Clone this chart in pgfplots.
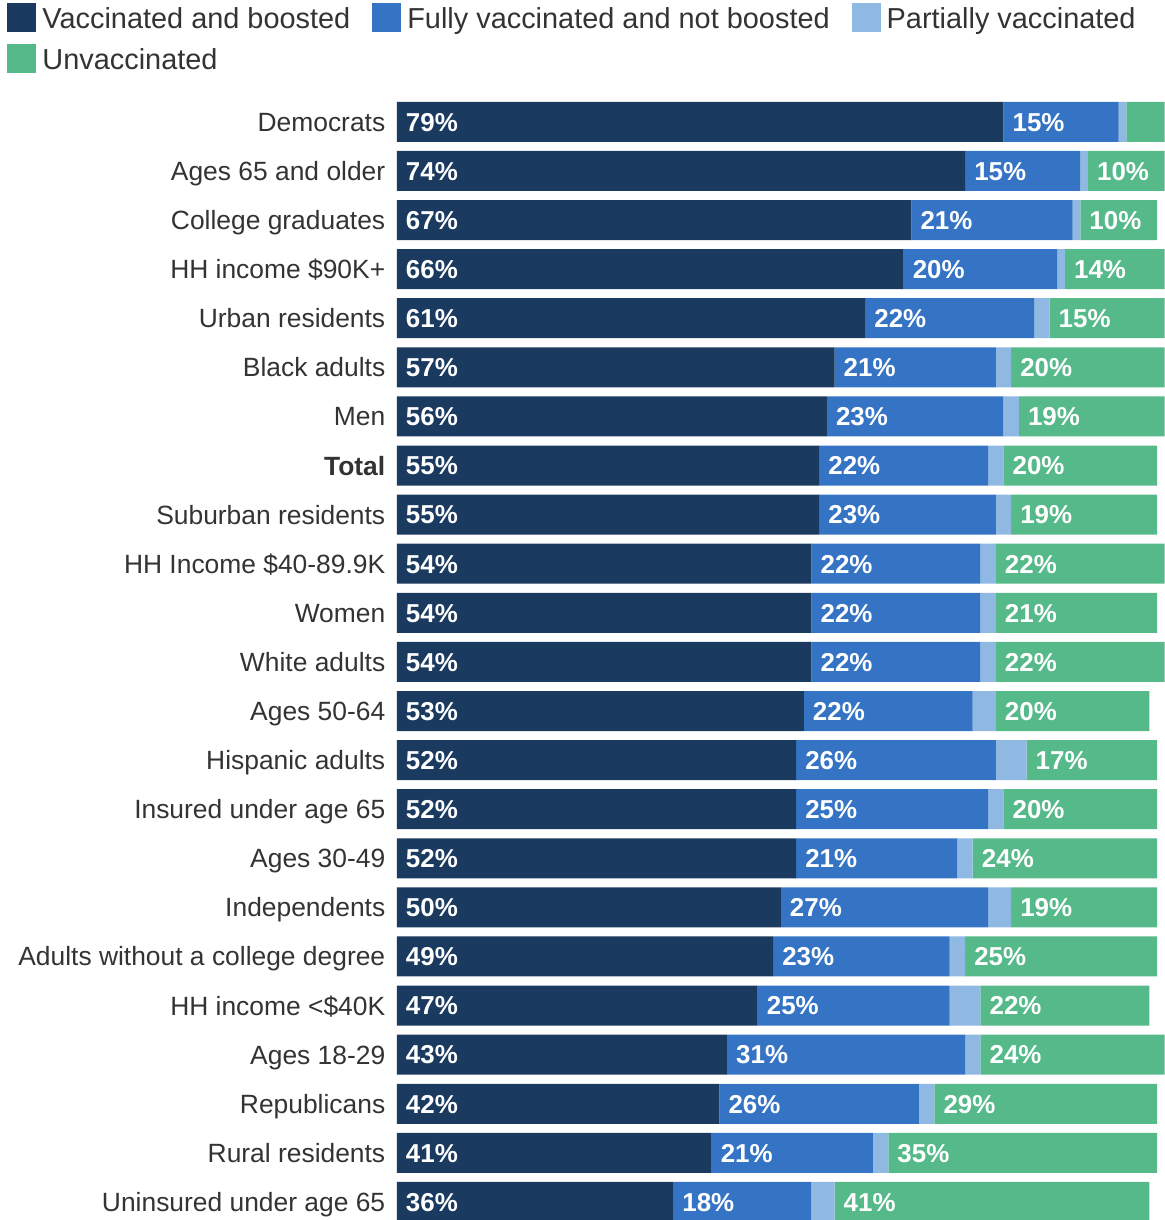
\documentclass[border=0pt]{standalone}
\usepackage{fontspec}
\setmainfont{Liberation Sans}
\usepackage{pgfplots}
\usepackage{pgfplotstable}
\pgfplotsset{compat=1.18}
\definecolor{cA}{HTML}{1B3A60}
\definecolor{cB}{HTML}{3574C4}
\definecolor{cC}{HTML}{8FB9E3}
\definecolor{cD}{HTML}{55B98A}
\definecolor{txt}{HTML}{333333}
% a = vaccinated and boosted, b = fully vaccinated not boosted,
% c = partially vaccinated, d = unvaccinated, ld = printed label of d
\pgfplotstableread{
a  b  c  d  ld
36 18 3  41 41
41 21 2  35 35
42 26 2  29 29
43 31 2  24 24
47 25 4  22 22
49 23 2  25 25
50 27 3  19 19
52 21 2  24 24
52 25 2  20 20
52 26 4  17 17
53 22 3  20 20
54 22 2  22 22
54 22 2  21 21
54 22 2  22 22
55 23 2  19 19
55 22 2  20 20
56 23 2  19 19
57 21 2  20 20
61 22 2  15 15
66 20 1  13 14
67 21 1  10 10
74 15 1  10 10
79 15 1  5  5
}\data
\pgfplotsset{
  common/.style={
    x=7.68bp, y=49.1bp,
    xmin=0, xmax=100,
    ymin=-0.367, ymax=22.5,
  },
}
\begin{document}
\begin{tikzpicture}
\begin{axis}[
  common,
  xbar stacked,
  bar width=40bp,
  axis line style={draw=none},
  xtick=\empty,
  ytick={0,...,22},
  yticklabels={Uninsured under age 65, Rural residents, Republicans, Ages 18-29, HH income <\$40K, Adults without a college degree, Independents, Ages 30-49, Insured under age 65, Hispanic adults, Ages 50-64, White adults, Women, HH Income \$40-89.9K, Suburban residents, \textbf{Total}, Men, Black adults, Urban residents, HH income \$90K+, College graduates, Ages 65 and older, Democrats},
  major tick length=0pt,
  ytick style={draw=none},
  yticklabel style={font=\fontsize{26.5}{30}\selectfont, text=txt, text height=19bp, text depth=0pt, xshift=-8bp},
  legend columns=3,
  legend cell align=left,
  legend image code/.code={\fill[#1] (0bp,-14.5bp) rectangle (29bp,14.5bp);},
  legend style={draw=none, fill=none, font=\fontsize{29}{34}\selectfont, text=txt,
    at={(axis description cs:0,1)}, anchor=north west, xshift=-397bp, yshift=97.5bp,
    inner xsep=7.5bp, inner ysep=3.5bp, row sep=12bp,
    nodes={inner sep=0pt, text height=20.8bp, text depth=0pt},
    /tikz/every odd column/.append style={column sep=6bp},
    /tikz/every even column/.append style={column sep=22bp}},
]
\addplot[fill=cA, draw=none] table[x=a, y expr=\coordindex] {\data};
\addlegendentry{Vaccinated and boosted}
\addplot[fill=cB, draw=none] table[x=b, y expr=\coordindex] {\data};
\addlegendentry{Fully vaccinated and not boosted}
\addplot[fill=cC, draw=none] table[x=c, y expr=\coordindex] {\data};
\addlegendentry{Partially vaccinated}
\addplot[fill=cD, draw=none] table[x=d, y expr=\coordindex] {\data};
\addlegendentry{Unvaccinated}
\end{axis}
% value labels, each at the start of its segment
\begin{axis}[
  common,
  hide axis,
  clip=false,
  /pgf/number format/assume math mode=true,
  nodes near coords={\pgfmathprintnumber{\pgfplotspointmeta}\%},
  every node near coord/.append style={font=\bfseries\fontsize{26}{30}\selectfont, text=white, anchor=west, text height=18.6bp, text depth=0pt, inner xsep=9bp},
]
\addplot[only marks, mark=*, mark size=0pt, mark options={draw=none, fill=none}, point meta=\thisrow{a}]
  table[x expr=0, y expr=\coordindex] {\data};
\addplot[only marks, mark=*, mark size=0pt, mark options={draw=none, fill=none}, point meta=\thisrow{b}]
  table[x=a, y expr=\coordindex] {\data};
\addplot[only marks, mark=*, mark size=0pt, mark options={draw=none, fill=none}, point meta=\thisrow{ld}, skip coords between index={22}{23}]
  table[x expr=\thisrow{a}+\thisrow{b}+\thisrow{c}, y expr=\coordindex] {\data};
\end{axis}
\end{tikzpicture}
\end{document}
